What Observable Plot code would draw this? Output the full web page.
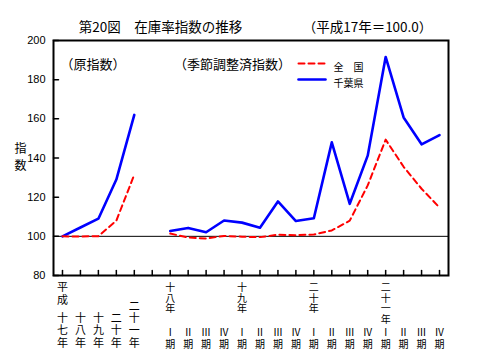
<!DOCTYPE html>
<html><head><meta charset="utf-8">
<script src="https://cdn.jsdelivr.net/npm/d3@7"></script>
<script src="https://cdn.jsdelivr.net/npm/@observablehq/plot@0.6"></script>
<style>body{margin:0;background:#fff}</style>
</head><body><div id="chart"></div>
<script>
// ---- data ----
const titleText = "第20図　在庫率指数の推移";
const baseText = "（平成17年＝100.0）";
const annualHeading = "（原指数）";
const quarterlyHeading = "（季節調整済指数）";
const yAxisLabel = "指数";
const eraLabel = "平成";
const annualLabels = ["十七年", "十八年", "十九年", "二十年", "二十一年"];
const quarterYearLabels = ["十八年", "十九年", "二十年", "二十一年"];
const quarterNames = ["Ⅰ", "Ⅱ", "Ⅲ", "Ⅳ"];
const quarterSuffix = "期";
const seriesNames = ["全　国", "千葉県"];
const seriesColors = ["#ff0000", "#0000ff"];
const zenkokuAnnual = [100.0, 99.9, 100.1, 108.0, 131.5];
const chibaAnnual = [100.0, 104.5, 109.0, 129.0, 162.0];
const zenkokuQuarterly = [101.4, 99.4, 98.9, 100.2, 99.8, 99.6, 100.8, 100.6, 100.9, 103.0, 108.0, 126.0, 149.4, 135.5, 124.3, 114.7];
const chibaQuarterly = [102.7, 104.3, 102.1, 108.1, 107.0, 104.4, 117.8, 107.8, 109.2, 148.0, 116.6, 141.2, 191.6, 160.7, 147.0, 151.7];
const yTicks = [80, 100, 120, 140, 160, 180, 200];
const baseValue = 100;

// ---- build ----
const nA = annualLabels.length;
const qStart = nA + 1;
const nQ = zenkokuQuarterly.length;
const positions = d3.range(qStart + nQ);
const vert = s => s.split("").join("\n");

const rows = [];
const addSeries = (vals, start, name, part) =>
  vals.forEach((v, i) => rows.push({pos: start + i, value: v, series: name, key: name + part}));
addSeries(chibaAnnual, 0, seriesNames[1], "A");
addSeries(chibaQuarterly, qStart, seriesNames[1], "Q");
addSeries(zenkokuAnnual, 0, seriesNames[0], "A");
addSeries(zenkokuQuarterly, qStart, seriesNames[0], "Q");

const annualRows = annualLabels.map((l, i) => ({pos: i, label: vert(l)}));
const quarterYearRows = quarterYearLabels.map((l, i) => ({pos: qStart + i * 4, label: vert(l)}));
const quarterRows = d3.range(nQ).map(k => ({pos: qStart + k, label: quarterNames[k % 4] + "\n" + quarterSuffix}));
const legendRows = seriesNames.map((name, i) => ({name, color: seriesColors[i], row: i}));

const tickShape = {draw(ctx, l) { ctx.moveTo(0, 0); ctx.lineTo(0, -l); }};
const jp = "'Noto Sans CJK JP', sans-serif";

const chart = Plot.plot({
  width: 480,
  height: 352,
  marginLeft: 53,
  marginRight: 32,
  marginTop: 40,
  marginBottom: 77,
  style: {fontFamily: jp, fontSize: "11px", background: "white", overflow: "visible"},
  x: {type: "linear", domain: [-0.5, positions.length - 0.5], axis: null},
  y: {domain: [yTicks[0], yTicks[yTicks.length - 1]], axis: null},
  marks: [
    Plot.ruleY([baseValue], {stroke: "black", strokeWidth: 1}),
    Plot.line(rows.filter(d => d.series === seriesNames[1]), {x: "pos", y: "value", z: "key", stroke: seriesColors[1], strokeWidth: 2.6}),
    Plot.line(rows.filter(d => d.series === seriesNames[0]), {x: "pos", y: "value", z: "key", stroke: seriesColors[0], strokeWidth: 2, strokeDasharray: "6,4"}),
    Plot.frame({stroke: "black", strokeWidth: 2}),
    // ticks (inside)
    Plot.vector(yTicks, {y: d => d, frameAnchor: "left", length: 5, rotate: 90, anchor: "start", shape: tickShape, stroke: "black", strokeWidth: 1.5}),
    Plot.vector(positions, {x: d => d, frameAnchor: "bottom", length: 5, rotate: 0, anchor: "start", shape: tickShape, stroke: "black", strokeWidth: 1.5}),
    Plot.axisY({ticks: yTicks, tickSize: 0, tickPadding: 8, fontSize: 11, fontFamily: "'Liberation Sans', Arial, sans-serif", label: null}),
    // x labels (vertical stacks)
    Plot.text([eraLabel], {x: () => 0, frameAnchor: "bottom", dy: 7, lineAnchor: "top", text: d => vert(d), fontSize: 11, lineHeight: 1.15}),
    Plot.text(annualRows, {x: "pos", text: "label", frameAnchor: "bottom", dy: 71, lineAnchor: "bottom", fontSize: 11, lineHeight: 1.12}),
    Plot.text(quarterYearRows, {x: "pos", text: "label", frameAnchor: "bottom", dy: 8, lineAnchor: "top", fontSize: 10, lineHeight: 1.06}),
    Plot.text(quarterRows, {x: "pos", text: "label", frameAnchor: "bottom", dy: 72, lineAnchor: "bottom", fontSize: 10, lineHeight: 1.12}),
    // y label
    Plot.text([yAxisLabel], {frameAnchor: "left", dx: -39, dy: -2, text: d => vert(d), fontSize: 12, lineHeight: 1.45}),
    // title
    Plot.text([titleText], {frameAnchor: "top-left", dx: 107, dy: -18, text: d => d, fontSize: 13.5, textAnchor: "middle"}),
    Plot.text([baseText], {frameAnchor: "top-left", dx: 314, dy: -18, text: d => d, fontSize: 13.5, textAnchor: "middle"}),
    // section headings
    Plot.text([annualHeading], {frameAnchor: "top-left", dx: 39.5, dy: 19, text: d => d, fontSize: 13, textAnchor: "middle"}),
    Plot.text([quarterlyHeading], {frameAnchor: "top-left", dx: 179, dy: 19, text: d => d, fontSize: 13, textAnchor: "middle"}),
    // legend
    Plot.vector(legendRows.filter(d => d.row === 0), {frameAnchor: "top-left", dx: 245, dy: 23, length: 27, rotate: 90, anchor: "start", shape: tickShape, stroke: "color", strokeWidth: 2, strokeDasharray: "6,4"}),
    Plot.vector(legendRows.filter(d => d.row === 1), {frameAnchor: "top-left", dx: 245, dy: 39, length: 27, rotate: 90, anchor: "start", shape: tickShape, stroke: "color", strokeWidth: 2.6}),
    Plot.text(legendRows.filter(d => d.row === 0), {frameAnchor: "top-left", dx: 280, dy: 23, text: "name", fontSize: 10, textAnchor: "start"}),
    Plot.text(legendRows.filter(d => d.row === 1), {frameAnchor: "top-left", dx: 280, dy: 39, text: "name", fontSize: 10, textAnchor: "start"})
  ]
});
document.getElementById("chart").appendChild(chart);
</script>
</body></html>
